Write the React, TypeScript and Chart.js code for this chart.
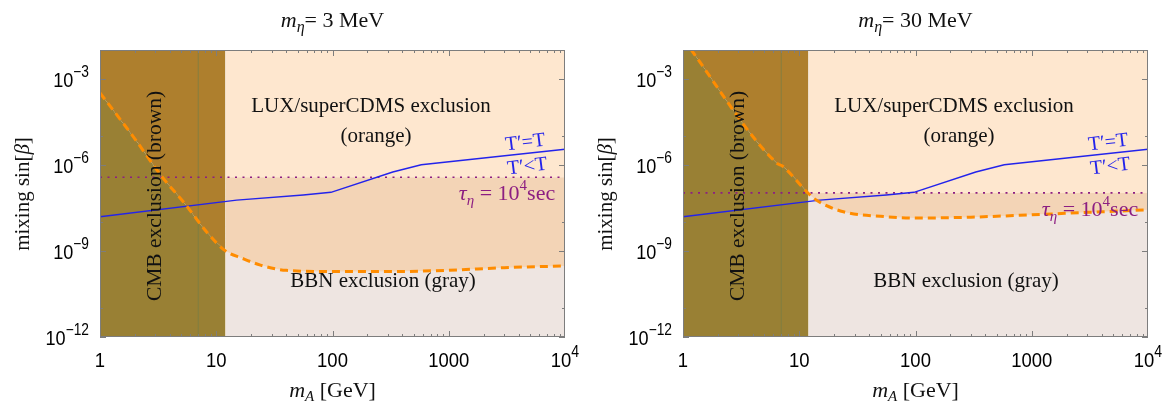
import React, { useEffect, useRef } from 'react';
import { Chart, registerables } from 'chart.js';
Chart.register(...registerables);

// ---- axis ranges & ticks ----
const X_MIN = 1;
const X_MAX = 1e4;
const Y_MIN = 1e-12;
const Y_MAX = 1e-2;
const xTickValues = [1, 10, 100, 1000, 10000];
const xTickBase = ['1', '10', '100', '1000', '10'];
const xTickSup = ['', '', '', '', '4'];
const yTickValues = [1e-3, 1e-6, 1e-9, 1e-12];
const yTickSup = ['−3', '−6', '−9', '−12'];
const yMinorTickValues = [1e-5, 1e-8, 1e-11];

// ---- regions ----
const cmbEdge = 12; // GeV, edge of CMB exclusion band
const cmbInnerLine = 7; // GeV, faint boundary inside the band

// ---- T' = T line (same in both panels) ----
const blueX = [1, 15, 56, 97, 330, 580, 10000];
const blueY = [1.55e-8, 5.9e-8, 8.9e-8, 1.1e-7, 5.6e-7, 1.0e-6, 3.5e-6];

// ---- BBN boundary, m_eta = 3 MeV ----
const bbn3X = [1, 2, 3.4, 5.3, 8.5, 12, 16.6, 24, 40, 105, 300, 960, 3000, 10000];
const bbn3Y = [3.2e-4, 7.9e-6, 3.9e-7, 4.7e-8, 4.0e-9, 1.0e-9, 5.6e-10, 3.2e-10, 2.1e-10, 1.9e-10, 1.9e-10, 2.1e-10, 2.6e-10, 3.0e-10];
const tau3 = 3.7e-7;

// ---- BBN boundary, m_eta = 30 MeV ----
const bbn30X = [1, 6.4, 7.2, 12, 14, 24, 50, 105, 300, 960, 3000, 10000];
const bbn30Y = [2.5e-2, 1.15e-6, 8.9e-7, 1.0e-7, 5.9e-8, 2.3e-8, 1.6e-8, 1.4e-8, 1.5e-8, 1.8e-8, 2.2e-8, 2.7e-8];
const tau30 = 1.05e-7;

const tauLabelX = 3170;

// ---- colours ----
const C_PEACH = 'rgb(254,231,207)';
const C_PEACH_DARK = 'rgb(243,212,182)';
const C_GRAY = 'rgb(238,229,225)';
const C_BROWN = 'rgb(174,127,45)';
const C_OLIVE = 'rgb(153,128,52)';
const C_ORANGE = 'rgb(255,140,0)';
const C_PURPLE = 'rgb(140,30,130)';
const C_BLUE = 'rgb(35,35,235)';
const C_FRAME = 'rgb(125,125,125)';

const SERIF = '"Liberation Serif", "Times New Roman", serif';
const SANS = '"Liberation Sans", Arial, sans-serif';

type Run = { t: string; f: string; dy?: number };

function runsWidth(ctx: CanvasRenderingContext2D, runs: Run[]) {
  let w = 0;
  for (const r of runs) {
    ctx.font = r.f;
    w += ctx.measureText(r.t).width;
  }
  return w;
}

function drawRuns(
  ctx: CanvasRenderingContext2D,
  runs: Run[],
  x: number,
  y: number,
  align: 'left' | 'center' | 'right',
  color: string,
  hs = 1,
  rot = 0
) {
  ctx.save();
  ctx.translate(x, y);
  if (rot) ctx.rotate(rot);
  ctx.scale(hs, 1);
  const w = runsWidth(ctx, runs);
  let cx = align === 'center' ? -w / 2 : align === 'right' ? -w : 0;
  ctx.textBaseline = 'alphabetic';
  ctx.textAlign = 'left';
  ctx.fillStyle = color;
  for (const r of runs) {
    ctx.font = r.f;
    ctx.fillText(r.t, cx, r.dy || 0);
    cx += ctx.measureText(r.t).width;
  }
  ctx.restore();
}

function Panel({ massLabel, bbnX, bbnY, tau }: { massLabel: string; bbnX: number[]; bbnY: number[]; tau: number }) {
  const ref = useRef<HTMLCanvasElement>(null);
  useEffect(() => {
    const canvas = ref.current!;
    const pts = (xs: number[], ys: number[]) => xs.map((x, i) => ({ x, y: ys[i] }));
    const bbn = pts(bbnX, bbnY);
    const bbnLow = bbn.filter((p) => p.x <= cmbEdge);
    const bbnHigh = bbn.filter((p) => p.x >= cmbEdge);
    const tauSeg = [{ x: cmbEdge, y: tau }, { x: X_MAX, y: tau }];
    const tauFull = [{ x: X_MIN, y: tau }, { x: X_MAX, y: tau }];
    const innerLine = [{ x: cmbInnerLine, y: Y_MIN }, { x: cmbInnerLine, y: Y_MAX }];

    const fillDs = (data: any[], fill: any, color: string, order: number, mono = false) => ({
      data,
      fill,
      backgroundColor: color,
      borderWidth: 0,
      borderColor: 'rgba(0,0,0,0)',
      pointRadius: 0,
      order,
      clip: 0,
      cubicInterpolationMode: mono ? 'monotone' : 'default',
    });

    const annot = {
      id: 'annot',
      afterDatasetsDraw(chart: any) {
        const ctx: CanvasRenderingContext2D = chart.ctx;
        const xs = chart.scales.x;
        const ys = chart.scales.y;
        // region labels
        drawRuns(ctx, [{ t: 'LUX/superCDMS exclusion', f: `21px ${SERIF}` }], 371, 112, 'center', '#111');
        drawRuns(ctx, [{ t: '(orange)', f: `21px ${SERIF}` }], 376, 142, 'center', '#111');
        drawRuns(ctx, [{ t: 'BBN exclusion (gray)', f: `21px ${SERIF}` }], 383, 287, 'center', '#111');
        drawRuns(ctx, [{ t: 'CMB exclusion (brown)', f: `21.5px ${SERIF}` }], 161, 196, 'center', '#111', 1, -Math.PI / 2);
        // T' = T labels
        const rot = (-7 * Math.PI) / 180;
        drawRuns(ctx, [{ t: 'T′=T', f: `20px ${SERIF}` }], 526, 148, 'center', C_BLUE, 1, rot);
        drawRuns(ctx, [{ t: 'T′<T', f: `20px ${SERIF}` }], 528, 172, 'center', C_BLUE, 1, rot);
        // tau label
        const tx = xs.getPixelForValue(tauLabelX);
        const ty = ys.getPixelForValue(tau) + 23;
        drawRuns(
          ctx,
          [
            { t: 'τ', f: `italic 22px ${SERIF}` },
            { t: 'η', f: `italic 15px ${SERIF}`, dy: 5 },
            { t: ' = 10', f: `22px ${SERIF}` },
            { t: '4', f: `15px ${SERIF}`, dy: -10 },
            { t: 'sec', f: `22px ${SERIF}` },
          ],
          tx,
          ty,
          'center',
          C_PURPLE
        );
      },
      afterDraw(chart: any) {
        const ctx: CanvasRenderingContext2D = chart.ctx;
        const xs = chart.scales.x;
        const ys = chart.scales.y;
        const ca = chart.chartArea;
        ctx.save();
        ctx.strokeStyle = C_FRAME;
        ctx.lineWidth = 1;
        ctx.strokeRect(Math.round(ca.left) + 0.5, Math.round(ca.top) + 0.5, Math.round(ca.right - ca.left) - 1, Math.round(ca.bottom - ca.top) - 1);
        ctx.beginPath();
        // x ticks
        for (let d = 0; d < 4; d++) {
          for (let m = 1; m <= 9; m++) {
            const v = m * Math.pow(10, d);
            const px = Math.round(xs.getPixelForValue(v)) + 0.5;
            const len = m === 1 ? 6 : 3;
            ctx.moveTo(px, ca.bottom);
            ctx.lineTo(px, ca.bottom - len);
            ctx.moveTo(px, ca.top);
            ctx.lineTo(px, ca.top + len);
          }
        }
        // y ticks
        const yt = [...yTickValues.map((v) => [v, 6]), ...yMinorTickValues.map((v) => [v, 3])];
        for (const [v, len] of yt) {
          const py = Math.round(ys.getPixelForValue(v)) + 0.5;
          ctx.moveTo(ca.left, py);
          ctx.lineTo(ca.left + len, py);
          ctx.moveTo(ca.right, py);
          ctx.lineTo(ca.right - len, py);
        }
        ctx.stroke();
        ctx.restore();

        // tick labels
        xTickValues.forEach((v, i) => {
          const px = xs.getPixelForValue(v);
          const runs: Run[] = [{ t: xTickBase[i], f: `21px ${SANS}` }];
          if (xTickSup[i]) runs.push({ t: xTickSup[i], f: `16px ${SANS}`, dy: -10 });
          drawRuns(ctx, runs, px, 367, 'center', '#000', 0.88);
        });
        yTickValues.forEach((v, i) => {
          const py = ys.getPixelForValue(v);
          drawRuns(
            ctx,
            [
              { t: '10', f: `21px ${SANS}` },
              { t: yTickSup[i], f: `16px ${SANS}`, dy: -10 },
            ],
            89,
            py + 8,
            'right',
            '#000',
            0.86
          );
        });

        // titles
        const cx = (ca.left + ca.right) / 2;
        drawRuns(
          ctx,
          [
            { t: 'm', f: `italic 22px ${SERIF}` },
            { t: 'η', f: `italic 16px ${SERIF}`, dy: 5 },
            { t: `= ${massLabel} MeV`, f: `22px ${SERIF}` },
          ],
          cx,
          27,
          'center',
          '#111'
        );
        drawRuns(
          ctx,
          [
            { t: 'm', f: `italic 22px ${SERIF}` },
            { t: 'A', f: `italic 15px ${SERIF}`, dy: 4 },
            { t: ' [GeV]', f: `22px ${SERIF}` },
          ],
          cx,
          397,
          'center',
          '#111'
        );
        drawRuns(
          ctx,
          [
            { t: 'mixing sin[', f: `21px ${SERIF}` },
            { t: 'β', f: `italic 21px ${SERIF}` },
            { t: ']', f: `21px ${SERIF}` },
          ],
          29,
          194,
          'center',
          '#111',
          1,
          -Math.PI / 2
        );
      },
    };

    const chart = new Chart(canvas, {
      type: 'line',
      data: {
        datasets: [
          // backgrounds (higher order = drawn first)
          fillDs(tauSeg, 'end', C_PEACH, 20),
          fillDs(tauSeg, 'start', C_PEACH_DARK, 19),
          fillDs(bbnHigh, 'start', C_GRAY, 18, true),
          fillDs(bbnLow, 'end', C_BROWN, 17, true),
          fillDs(bbnLow, 'start', C_OLIVE, 16, true),
          {
            data: innerLine,
            borderColor: 'rgba(120,125,70,0.75)',
            borderWidth: 1,
            pointRadius: 0,
            fill: false,
            order: 10,
            clip: 0,
          },
          {
            data: tauFull,
            borderColor: C_PURPLE,
            borderWidth: 1.6,
            borderDash: [2, 5.5],
            pointRadius: 0,
            fill: false,
            order: 5,
            clip: 0,
          },
          {
            data: pts(blueX, blueY),
            borderColor: C_BLUE,
            borderWidth: 1.4,
            pointRadius: 0,
            fill: false,
            order: 4,
            clip: 0,
          },
          {
            data: bbn,
            borderColor: C_ORANGE,
            borderWidth: 3,
            borderDash: [8, 5],
            pointRadius: 0,
            fill: false,
            cubicInterpolationMode: 'monotone',
            order: 3,
            clip: 0,
          },
        ] as any,
      },
      options: {
        responsive: false,
        animation: false,
        events: [],
        layout: { padding: { left: 100, right: 18, top: 50, bottom: 64 } },
        plugins: { legend: { display: false }, tooltip: { enabled: false } },
        scales: {
          x: { type: 'logarithmic', min: X_MIN, max: X_MAX, display: false },
          y: { type: 'logarithmic', min: Y_MIN, max: Y_MAX, display: false },
        },
      } as any,
      plugins: [annot],
    });
    return () => chart.destroy();
  }, [massLabel, bbnX, bbnY, tau]);
  return <canvas ref={ref} width={583} height={401} style={{ width: 583, height: 401, display: 'block' }} />;
}

export default function App() {
  return (
    <div style={{ position: 'fixed', left: 0, top: 0, width: 1166, height: 401, display: 'flex', background: '#fff' }}>
      <Panel massLabel="3" bbnX={bbn3X} bbnY={bbn3Y} tau={tau3} />
      <Panel massLabel="30" bbnX={bbn30X} bbnY={bbn30Y} tau={tau30} />
    </div>
  );
}
